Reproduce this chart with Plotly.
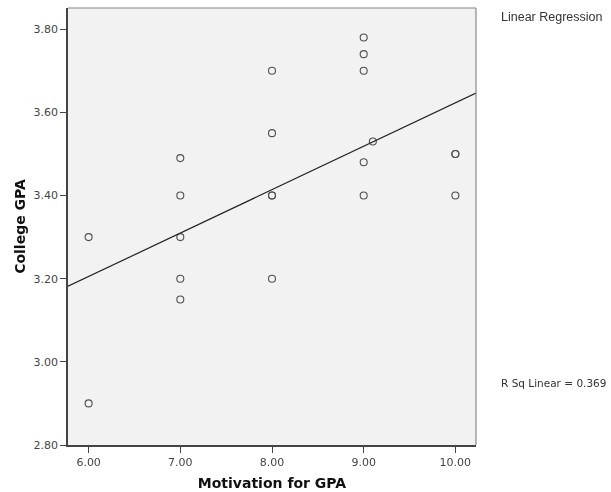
import numpy as np
import plotly.graph_objects as go

motivation = [6, 6, 7, 7, 7, 7, 7, 8, 8, 8, 8, 8, 9, 9, 9, 9, 9, 9.1, 10, 10, 10]
college_gpa = [3.30, 2.90, 3.49, 3.40, 3.30, 3.20, 3.15, 3.70, 3.55, 3.40, 3.40, 3.20,
               3.78, 3.74, 3.70, 3.48, 3.40, 3.53, 3.50, 3.50, 3.40]
x_ticks = [6, 7, 8, 9, 10]
y_ticks = [2.8, 3.0, 3.2, 3.4, 3.6, 3.8]
x_range = [5.775, 10.225]
y_range = [2.80, 3.851]

slope, intercept = np.polyfit(motivation, college_gpa, 1)
line_x = np.array(x_range)
line_y = intercept + slope * line_x

fig = go.Figure()
fig.add_trace(go.Scatter(
    x=line_x, y=line_y, mode="lines",
    line=dict(color="#222222", width=1.2), hoverinfo="skip", showlegend=False))
fig.add_trace(go.Scatter(
    x=motivation, y=college_gpa, mode="markers",
    marker=dict(symbol="circle-open", size=7, color="#333333", line=dict(width=1.1)),
    opacity=0.85, showlegend=False, cliponaxis=False))

axis_common = dict(
    showgrid=False, zeroline=False, showline=True, linecolor="#444444", linewidth=1.5,
    ticks="outside", ticklen=6, tickcolor="#444444", tickwidth=1.2, automargin=False,
    tickfont=dict(family="DejaVu Sans", size=11, color="#444444"),
)
fig.update_xaxes(range=x_range, tickvals=x_ticks, ticktext=[f"{v:.2f}" for v in x_ticks],
                 title=dict(text="<b>Motivation for GPA</b>", standoff=10,
                            font=dict(family="DejaVu Sans", size=14, color="#111111")),
                 **axis_common)
fig.update_yaxes(range=y_range, tickvals=y_ticks, ticktext=[f"{v:.2f}" for v in y_ticks],
                 title=dict(text="<b>College GPA</b>", standoff=5,
                            font=dict(family="DejaVu Sans", size=14, color="#111111")),
                 **axis_common)

# lighter top/right frame
fig.add_shape(type="line", xref="paper", yref="paper", x0=0, x1=1, y0=1, y1=1,
              line=dict(color="#888888", width=1.2))
fig.add_shape(type="line", xref="paper", yref="paper", x0=1, x1=1, y0=0, y1=1,
              line=dict(color="#888888", width=1.2))

fig.add_annotation(text="Linear Regression", xref="paper", yref="paper",
                   x=1.057, y=1.0, xanchor="left", yanchor="top", showarrow=False,
                   font=dict(family="Liberation Sans", size=12.5, color="#333333"))
fig.add_annotation(text="R Sq Linear = 0.369", xref="paper", yref="paper",
                   x=1.057, y=0.143, xanchor="left", yanchor="middle", showarrow=False,
                   font=dict(family="DejaVu Sans", size=10.5, color="#333333"))

fig.update_layout(
    width=611, height=492,
    margin=dict(l=68, r=135, t=8, b=47),
    plot_bgcolor="#f2f2f2", paper_bgcolor="white",
)
fig.write_html("out.html", config={"displayModeBar": False},
               post_script="document.body.style.margin='0';document.body.style.overflow='hidden';")
